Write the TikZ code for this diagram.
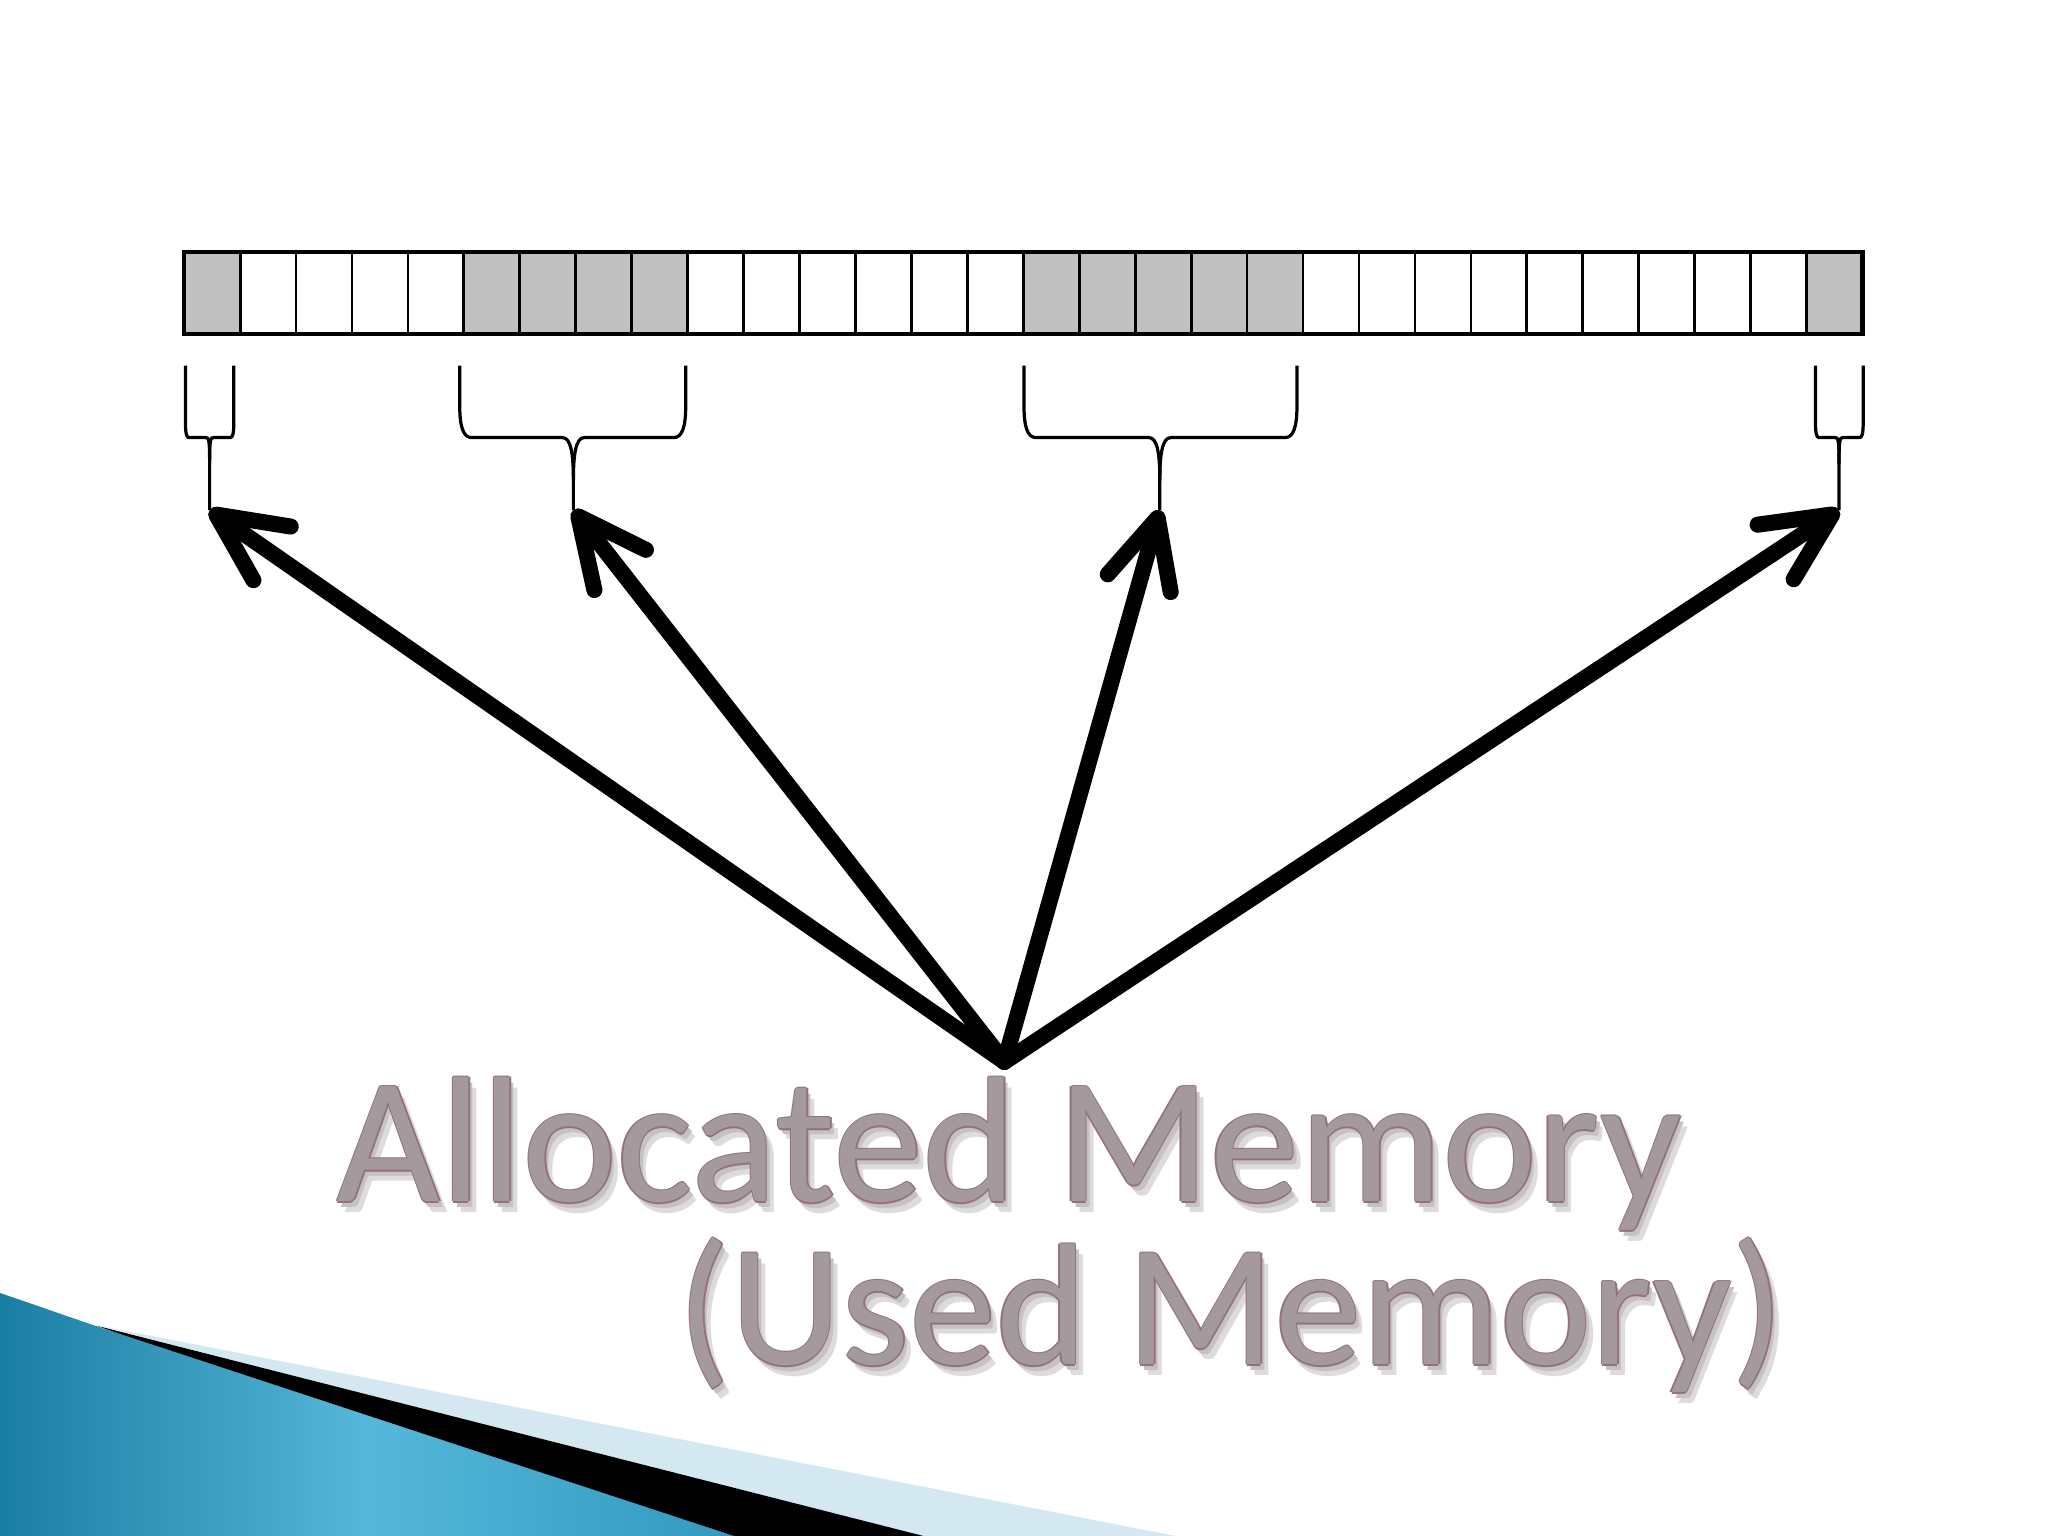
\documentclass[tikz,border=0pt]{standalone}
\usepackage{fontspec}
\setmainfont{Carlito}
\usetikzlibrary{arrows.meta}
\definecolor{cellgray}{HTML}{C0C0C0}
\definecolor{tealA}{HTML}{1A7DA2}
\definecolor{tealB}{HTML}{55B8DA}
\definecolor{tealC}{HTML}{3299C0}
\definecolor{paleband}{HTML}{D3E8F1}
\definecolor{txtfill}{HTML}{A49A9E}
\definecolor{txtedge}{HTML}{94707C}
\definecolor{shadowA}{HTML}{DEDBDC}
\definecolor{shadowB}{HTML}{C6C1C3}
\tikzset{
  cell/.style={draw=black, line width=0.6pt, minimum width=0.4283cm, minimum height=0.63cm, inner sep=0pt, outer sep=0pt},
  usedcell/.style={cell, fill=cellgray},
  freecell/.style={cell, fill=white},
  braceline/.style={draw=black, line width=0.7pt, line join=round},
  bigarrow/.style={line width=3.5pt, line cap=round, -{Straight Barb[length=5.2mm, width=5mm, round]}},
  btext/.style={inner sep=0pt, outer sep=0pt, anchor=base west}
}
% #1 name, #2 left, #3 right, #4 middle, #5 cusp half width, #6 corner width, #7 corner height, #8 cusp bottom
\newcommand\membrace[8]{%
  \draw[braceline] (#2,280) -- (#2,335-#7) .. controls (#2,335-#7*0.35) and (#2+#6*0.3,335) .. (#2+#6,335) -- (#4-#5,335) .. controls (#4-#5*0.2,335) and (#4,#8-20) .. (#4,#8) -- (#4,390.5);
  \draw[braceline] (#3,280) -- (#3,335-#7) .. controls (#3,335-#7*0.35) and (#3-#6*0.3,335) .. (#3-#6,335) -- (#4+#5,335) .. controls (#4+#5*0.2,335) and (#4,#8-20) .. (#4,#8);
  \coordinate (#1) at (#4,390.5);
}
\newcommand\beveltext[4]{% #1 name, #2 position, #3 font size, #4 text
  \begin{scope}[every node/.style={btext, font=\fontsize{#3}{#3}\selectfont}]
  \node[text=shadowA, xshift=0.06cm, yshift=-0.08cm] (#1s1) at (#2) {#4};
  \node[text=shadowB, xshift=0.03cm, yshift=-0.045cm] (#1s2) at (#2) {#4};
  \node[text=txtedge, xshift=0.011cm] (#1e1) at (#2) {#4};
  \node[text=txtedge, xshift=-0.011cm] (#1e2) at (#2) {#4};
  \node[text=txtedge, yshift=0.011cm] (#1e3) at (#2) {#4};
  \node[text=txtedge, yshift=-0.011cm] (#1e4) at (#2) {#4};
  \node[text=txtfill] (#1) at (#2) {#4};
  \end{scope}
}
\begin{document}
\begin{tikzpicture}[x=0.01cm, y=-0.01cm]
\useasboundingbox (0,0) rectangle (1568,1176);
\fill[white] (0,0) rectangle (1568,1176);

% bottom-left decoration
\fill[paleband] (80,1016) -- (122,1024) -- (900,1176) -- (700,1176) -- cycle;
\shade[left color=tealA, right color=tealC, middle color=tealB] (0,990) .. controls (30,1000) and (60,1011) .. (88,1020) -- (562,1176) -- (0,1176) -- cycle;
\fill[black] (74,1015) -- (707,1176) -- (562,1176) -- (88,1020) -- cycle;

% memory bar
\foreach \i in {2,3,4,5,10,11,12,13,14,15,21,22,23,24,25,26,27,28,29}
  \node[freecell] (c\i) at ({141+(\i-0.5)*42.833},224.5) {};
\foreach \i in {1,6,7,8,9,16,17,18,19,20,30}
  \node[usedcell] (c\i) at ({141+(\i-0.5)*42.833},224.5) {};
\draw[line width=0.9pt] (c1.north west) rectangle (c30.south east);

% braces
\membrace{t1}{142}{179}{160.5}{3.5}{2.5}{11}{355}
\membrace{t2}{352}{525}{439}{8.5}{9}{24}{368}
\membrace{t3}{784}{993}{888}{8.5}{9}{24}{368}
\membrace{t4}{1390}{1426.5}{1408}{3.5}{2.5}{11}{355}

% arrows
\coordinate (hub) at (769,813);
\draw[bigarrow] (hub) -- (t1);
\draw[bigarrow] (hub) -- (t2);
\draw[bigarrow] (hub) -- (t3);
\draw[bigarrow] (hub) -- (t4);

% label
\beveltext{line1}{258,920}{39}{Allocated Memory}
\beveltext{line2}{519,1045}{37.8}{(Used Memory)}
\end{tikzpicture}
\end{document}
